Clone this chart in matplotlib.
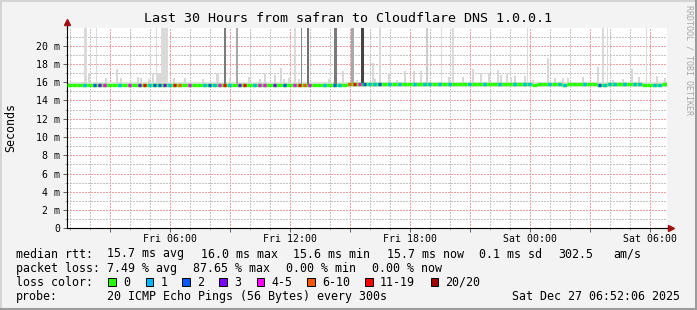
import datetime as dt
import matplotlib
matplotlib.use("Agg")
from matplotlib import pyplot as plt
import matplotlib.dates as mdates
from matplotlib.patches import Rectangle
from matplotlib.lines import Line2D
from matplotlib.ticker import MultipleLocator, FuncFormatter

W, H = 697, 310
START = dt.datetime(2025, 12, 26, 0, 52, 6)
SPAN_H = 30
STEP_H = 0.25  # one median bucket = 15 min

# median rtt per 15 min bucket (ms)
median_ms = [
    15.7, 15.7, 15.7, 15.7, 15.75, 15.7, 15.65, 15.7, 15.7, 15.7,
    15.75, 15.7, 15.7, 15.7, 15.7, 15.65, 15.7, 15.7, 15.65, 15.7,
    15.7, 15.7, 15.7, 15.7, 15.75, 15.7, 15.7, 15.7, 15.7, 15.7,
    15.7, 15.7, 15.7, 15.7, 15.75, 15.7, 15.7, 15.7, 15.75, 15.75,
    15.75, 15.75, 15.7, 15.7, 15.7, 15.75, 15.75, 15.75, 15.75, 15.7,
    15.7, 15.7, 15.7, 15.75, 15.75, 15.75, 15.8, 15.8, 15.8, 15.8,
    15.8, 15.8, 15.8, 15.8, 15.8, 15.8, 15.8, 15.8, 15.8, 15.8,
    15.8, 15.85, 15.8, 15.8, 15.8, 15.8, 15.85, 15.85, 15.8, 15.8,
    15.8, 15.85, 15.85, 15.8, 15.8, 15.8, 15.8, 15.8, 15.8, 15.8,
    15.8, 15.8, 15.8, 15.75, 15.8, 15.8, 15.8, 15.8, 15.8, 15.75,
    15.8, 15.8, 15.8, 15.8, 15.8, 15.8, 15.75, 15.75, 15.8, 15.8,
    15.8, 15.8, 15.8, 15.8, 15.8, 15.75, 15.75, 15.75, 15.75, 15.8,
]
# loss class per bucket (index into loss_colors)
loss_idx = [
    0, 0, 0, 1, 0, 2, 3, 4, 0, 0,
    1, 0, 4, 0, 3, 6, 1, 2, 2, 3,
    1, 6, 5, 0, 4, 0, 0, 1, 2, 1,
    4, 6, 1, 0, 3, 6, 0, 1, 4, 4,
    0, 3, 0, 2, 0, 4, 6, 5, 4, 0,
    0, 1, 0, 2, 1, 0, 5, 6, 4, 2,
    1, 1, 2, 0, 1, 0, 1, 0, 0, 1,
    0, 1, 1, 0, 1, 0, 1, 0, 0, 0,
    1, 0, 0, 1, 0, 0, 1, 0, 0, 1,
    0, 1, 1, 0, 0, 0, 1, 0, 1, 1,
    0, 0, 0, 1, 0, 0, 2, 1, 1, 1,
    0, 1, 0, 1, 1, 0, 0, 1, 1, 0,
]
loss_colors = ['#26ff00', '#00b8ff', '#0059ff', '#7e00ff',
               '#ff00ff', '#ff5500', '#ff0000', '#a10000']
loss_labels = ['0', '1', '2', '3', '4-5', '6-10', '11-19', '20/20']

# small smoke bumps: hours since start, top (ms)
bump_h = [0.25, 0.75, 1.12, 1.95, 2.52, 2.7, 3.55, 3.7, 4.12, 4.3, 4.55, 4.65,
          5.35, 5.9, 6.8, 7.48, 7.55, 8.15, 9.1, 9.65, 9.9, 10.4, 10.7, 10.85,
          11.12, 11.6, 13.12, 13.78, 14.48, 15.3, 15.42, 16.12, 16.48, 16.92,
          17.35, 17.7, 19.12, 19.82, 20.3, 20.68, 21.12, 21.55, 21.72, 22.0,
          22.22, 22.4, 22.88, 23.32, 24.05, 24.4, 24.8, 25.05, 25.8, 26.55,
          27.32, 27.8, 28.25, 28.62, 29.48, 29.88]
bump_top = [15.9, 16.05, 17.0, 16.5, 17.4, 16.5, 16.6, 16.5, 16.3, 17.0, 17.0, 17.0,
            16.5, 16.5, 16.4, 17.0, 17.0, 16.5, 16.6, 16.3, 17.0, 16.8, 17.6, 16.4,
            16.5, 16.3, 16.4, 17.2, 16.2, 18.1, 16.4, 17.0, 16.2, 17.2,
            17.2, 17.2, 16.6, 16.6, 17.5, 17.0, 17.0, 17.3, 16.8, 17.0,
            16.6, 16.7, 16.7, 16.2, 18.7, 16.5, 16.5, 16.5, 16.6, 17.7,
            16.2, 16.3, 17.5, 16.6, 16.7, 16.5]

# tall smoke spikes running off the top: start (h), width (h), shade
spike_h = [0.85, 1.45, 4.45, 4.7, 7.85, 8.45, 11.35, 11.7, 12.0, 13.35,
           14.2, 14.7, 15.6, 17.95, 18.7, 19.25, 23.0, 26.75, 27.0, 28.95]
spike_w = [0.15, 0.07, 0.07, 0.35, 0.12, 0.1, 0.1, 0.06, 0.1, 0.15,
           0.15, 0.15, 0.1, 0.1, 0.06, 0.1, 0.06, 0.1, 0.06, 0.06]
spike_shade = ['#dadada', '#dadada', '#dadada', '#dadada', '#7a7a7a', '#a8a8a8',
               '#dadada', '#8a8a8a', '#707070', '#7a7a7a', '#a8a8a8', '#444444',
               '#dadada', '#cccccc', '#dadada', '#dadada', '#dadada', '#dadada',
               '#dadada', '#dadada']

rtt_stats = ['15.7 ms avg', '16.0 ms max', '15.6 ms min', '15.7 ms now', '0.1 ms sd', '302.5', 'am/s']
loss_stats = ['7.49 % avg', '87.65 % max', '0.00 % min', '0.00 % now']
probe_txt = '20 ICMP Echo Pings (56 Bytes) every 300s'
stamp_txt = 'Sat Dec 27 06:52:06 2025'
title_txt = 'Last 30 Hours from safran to Cloudflare DNS 1.0.0.1'


def t(h):
    return mdates.date2num(START + dt.timedelta(hours=h))


plt.rcParams['font.family'] = ['DejaVu Sans Mono']
fig = plt.figure(figsize=(W / 100, H / 100), dpi=100, facecolor='#f3f3f3')
ax = fig.add_axes([67 / W, (H - 228.3) / H, 600 / W, 200.3 / H])
ax.set_facecolor('white')
YMAX = 21.94

# smoke
ax.fill_between([t(0), t(SPAN_H)], 15.45, 16.05, color='#e2e2e2', lw=0, zorder=2)
for h, top in zip(bump_h, bump_top):
    ax.bar(t(h), top - 15.5, bottom=15.5, width=t(0.1) - t(0), align='center',
           color='#d8d8d8', lw=0, zorder=2)
for h, w, c in zip(spike_h, spike_w, spike_shade):
    ax.bar(t(h), YMAX + 1 - 15.6, bottom=15.6, width=t(w) - t(0), align='edge',
           color=c, lw=0, zorder=3)

# median line: green underneath, loss coloured chunks on top
for i, m in enumerate(median_ms):
    ax.hlines(m, t(i * STEP_H), t((i + 1) * STEP_H), colors=loss_colors[0],
              lw=2.4, zorder=4, capstyle='butt')
for i, (m, k) in enumerate(zip(median_ms, loss_idx)):
    if k:
        ax.hlines(m, t((i + 0.15) * STEP_H), t((i + 0.85) * STEP_H), colors=loss_colors[k],
                  lw=2.4, zorder=5, capstyle='butt')

ax.set_xlim(t(0), t(SPAN_H))
ax.set_ylim(0, YMAX)

ax.xaxis.set_major_locator(mdates.HourLocator(byhour=range(0, 24, 3)))
ax.xaxis.set_minor_locator(mdates.HourLocator())


def fmt_x(v, pos):
    d = mdates.num2date(v)
    return d.strftime('%a %H:%M') if d.hour % 6 == 0 else ''


ax.xaxis.set_major_formatter(FuncFormatter(fmt_x))
ax.yaxis.set_major_locator(MultipleLocator(2))
ax.yaxis.set_minor_locator(MultipleLocator(1))
ax.yaxis.set_major_formatter(FuncFormatter(lambda v, p: '0' if v == 0 else f'{v:.0f} m'))

ax.set_axisbelow(True)
ax.grid(which='major', color='#f4a0a0', linestyle=(0, (2, 2)), lw=0.72, antialiased=False)
ax.grid(which='minor', color='#c4c4c4', linestyle=(0, (2, 2)), lw=0.72, antialiased=False)
ax.tick_params(which='major', labelsize=7.1, length=2.9, width=0.7, pad=2, color='#606060')
ax.tick_params(which='minor', length=1.4, width=0.7, color='#a0a0a0')
ax.tick_params(axis='x', pad=1.5)

for s in ['top', 'right']:
    ax.spines[s].set_visible(False)
for s in ['left', 'bottom']:
    ax.spines[s].set_color('black')
    ax.spines[s].set_linewidth(0.8)

# axis arrows
ax.plot([0, 0], [1, 1.03], transform=ax.transAxes, clip_on=False, color='black', lw=0.8)
ax.plot([0], [1.03], transform=ax.transAxes, clip_on=False, marker='^', ms=4,
        color='#a01010', mec='#a01010')
ax.plot([1, 1.007], [0, 0], transform=ax.transAxes, clip_on=False, color='black', lw=0.8)
ax.plot([1.007], [0], transform=ax.transAxes, clip_on=False, marker='>', ms=4,
        color='#a01010', mec='#a01010')

# texts
fig.text(348.5 / W, 1 - 19 / H, title_txt, ha='center', va='center', fontsize=9.6)
fig.text(10.5 / W, 1 - 128 / H, 'Seconds', ha='center', va='center', rotation=90, fontsize=8.4)
fig.text(688.5 / W, 1 - 60 / H, 'RRDTOOL / TOBI OETIKER', ha='center', va='center',
         rotation=270, fontsize=6, color='#a8a8a8')

FS = 8.4


def put(x, y, s, **kw):
    fig.text(x / W, 1 - y / H, s, va='center', fontsize=FS, **kw)


put(16, 254, 'median rtt:')
for x, s in zip([107.3, 201, 293.3, 386.7, 479, 558, 613], rtt_stats):
    put(x, 254, s)
put(16, 268.3, 'packet loss:')
for x, s in zip([107.3, 193.3, 286, 372], loss_stats):
    put(x, 268.3, s)
put(16, 282, 'loss color:')
for x, c, s in zip([108.3, 145.7, 182.3, 219.3, 256.7, 307.3, 365.3, 430.5], loss_colors, loss_labels):
    fig.add_artist(Rectangle((x / W, 1 - 285.5 / H), 7.4 / W, 7.4 / H,
                             transform=fig.transFigure, facecolor=c, edgecolor='black', lw=0.7))
    put(x + 14.5, 282, s)
put(16, 296.3, 'probe:')
put(107.3, 296.3, probe_txt)
put(680, 296.3, stamp_txt, ha='right')

# frame
fig.add_artist(Line2D([0, 1], [1 - 0.5 / H, 1 - 0.5 / H], transform=fig.transFigure, color='#d4d4d4', lw=1.4))
fig.add_artist(Line2D([0.5 / W, 0.5 / W], [0, 1], transform=fig.transFigure, color='#d4d4d4', lw=1.4))
fig.add_artist(Line2D([1 - 1.5 / W, 1 - 1.5 / W], [0, 1], transform=fig.transFigure, color='#9c9c9c', lw=2.2))
fig.add_artist(Line2D([0, 1], [1.5 / H, 1.5 / H], transform=fig.transFigure, color='#9c9c9c', lw=2.2))

fig.savefig('out.png', dpi=100, facecolor=fig.get_facecolor())
